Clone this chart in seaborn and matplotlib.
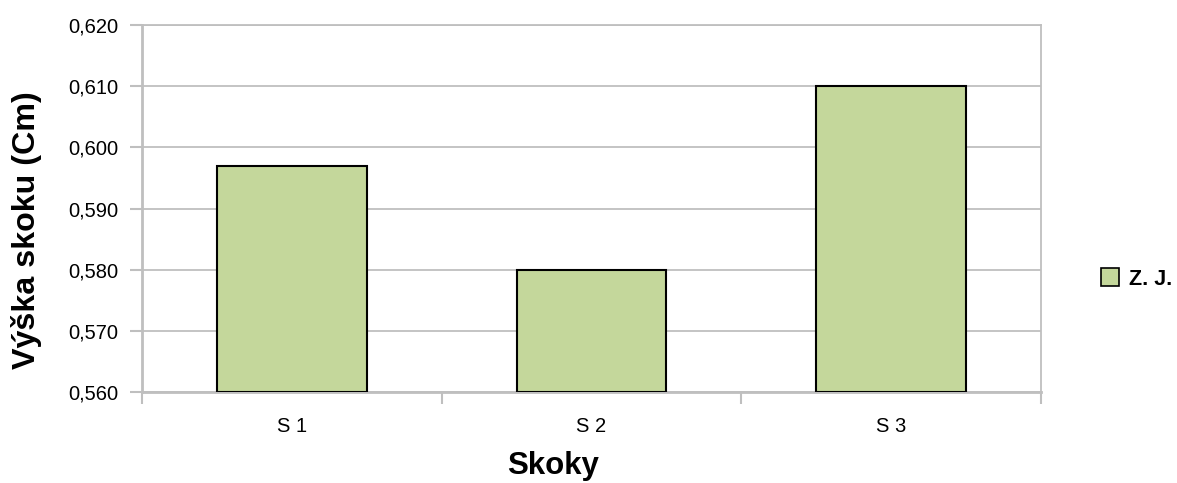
import numpy as np
import pandas as pd
import matplotlib
matplotlib.use("Agg")
import matplotlib.pyplot as plt
import seaborn as sns

# Jump heights per attempt
categories = ["S 1", "S 2", "S 3"]
heights = [0.597, 0.580, 0.610]
series_name = "Z. J."

y_ticks = [0.560, 0.570, 0.580, 0.590, 0.600, 0.610, 0.620]
y_tick_labels = ["0,560", "0,570", "0,580", "0,590", "0,600", "0,610", "0,620"]

x_title = "Skoky"
y_title = "Výška skoku (Cm)"

sns.set_theme(style="white")
plt.rcParams["font.family"] = ["Liberation Sans", "DejaVu Sans"]
plt.rcParams["text.color"] = "black"
plt.rcParams["axes.labelcolor"] = "black"

GRID = "#bfbfbf"
BAR = "#c4d79b"
y_min, y_max = y_ticks[0], y_ticks[-1]

df = pd.DataFrame({"jump": categories, "height": heights})
df["rise"] = df["height"] - y_min

fig = plt.figure(figsize=(11.77, 4.83), dpi=100)
ax = fig.add_axes([0.1206, 0.1884, 0.7638, 0.7598])

sns.barplot(data=df, x="jump", y="rise", bottom=y_min, color=BAR,
            saturation=1, width=0.5, edgecolor="black", linewidth=1.5,
            label=series_name, ax=ax, zorder=3)
if ax.get_legend() is not None:
    ax.get_legend().remove()

ax.set_ylim(y_min, y_max)
ax.set_xlim(-0.5, len(categories) - 0.5)
ax.set_yticks(y_ticks)
ax.set_yticklabels(y_tick_labels)

# gridlines and frame
ax.yaxis.grid(True, color=GRID, linewidth=1.3, zorder=0)
ax.xaxis.grid(False)
for name, sp in ax.spines.items():
    sp.set_visible(True)
    sp.set_color(GRID)
    sp.set_linewidth(1.3)
ax.spines["left"].set_linewidth(2)
ax.spines["bottom"].set_linewidth(2)
ax.spines["bottom"].set_zorder(2)

# y ticks outward on the left
ax.tick_params(axis="y", which="major", left=True, length=9, width=1.5,
               color=GRID, pad=8, labelsize=14.5, labelcolor="black")
# x labels centred on categories, tick marks between categories
ax.set_xticks(np.arange(len(categories)))
ax.tick_params(axis="x", which="major", bottom=False, length=0, pad=18,
               labelsize=14.5, labelcolor="black")
ax.set_xticks(np.arange(len(categories) + 1) - 0.5, minor=True)
ax.tick_params(axis="x", which="minor", bottom=True, length=8.5, width=1.5,
               color=GRID)

ax.set_xlabel("")
ax.set_ylabel("")
fig.text(553 / 1177, 1 - 466 / 483, x_title, fontsize=22.5, fontweight="bold",
         color="black", ha="center", va="center")
fig.text(27 / 1177, 1 - 230 / 483, y_title, fontsize=23.2, fontweight="bold",
         color="black", rotation=90, ha="center", va="center")

handles, labels = ax.get_legend_handles_labels()
leg = fig.legend(handles, labels, loc="center left",
                 bbox_to_anchor=(1086 / 1177, 1 - 279 / 483),
                 frameon=False, prop={"size": 15.5, "weight": "bold"},
                 handlelength=0.85, handleheight=0.9, handletextpad=0.45,
                 borderpad=0.2)
for t in leg.get_texts():
    t.set_color("black")
for h in leg.legend_handles:
    h.set_edgecolor("black")
    h.set_linewidth(1.2)

fig.savefig("out.png", dpi=100, facecolor="white")
